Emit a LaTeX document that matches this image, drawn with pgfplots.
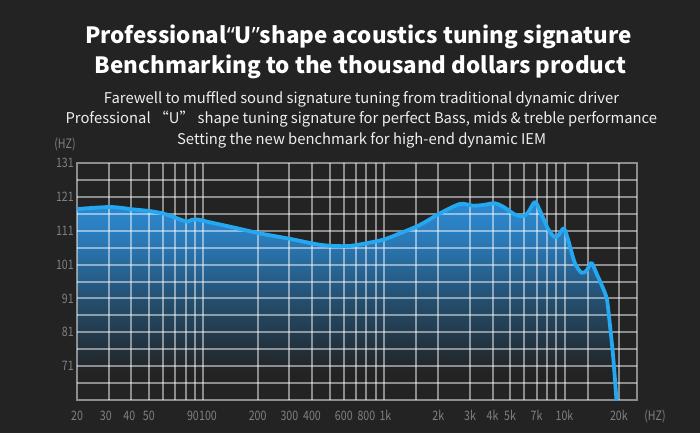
\documentclass[border=0pt]{standalone}
\usepackage{fontspec}
\setmainfont{Noto Sans CJK SC}
\newfontfamily\latinq{Noto Sans}
\newfontfamily\tickfont[FakeStretch=0.82]{Noto Sans CJK SC}
\usepackage{pgfplots}
\usepackage{pgfplotstable}
\pgfplotsset{compat=1.18}

\definecolor{bgc}{RGB}{35,35,35}
\definecolor{fillA}{RGB}{36,78,110}
\definecolor{fillB}{RGB}{42,122,184}
\definecolor{fillC}{RGB}{44,138,210}
\definecolor{curvec}{RGB}{36,168,242}
\definecolor{tickc}{RGB}{128,128,128}
\definecolor{subc}{RGB}{238,238,238}
\pgfdeclareverticalshading{frfill}{100bp}{color(0bp)=(bgc); color(32bp)=(bgc); color(50bp)=(fillA); color(65.5bp)=(fillB); color(75bp)=(fillC); color(100bp)=(fillC)}

% frequency (Hz) and level (value on the chart's axis)
\pgfplotstableread{
f v
20 117.4
30.5 118.0
40.8 117.3
50.7 116.8
59.8 116.1
68 115.1
80.9 113.7
86.3 114.2
93.5 114.3
104.4 113.7
146 112.0
206 110.2
302 108.6
424 107.0
522 106.5
648 106.5
800 107.3
1000 108.4
1226 110.2
1582 112.7
2041 116.1
2635 118.9
3120 118.4
3545 118.6
4115 119.1
4575 118.1
5308 115.8
5900 115.3
6290 116.4
6848 119.5
7300 117.0
8116 111.5
8838 109.1
9336 109.9
9912 111.7
10470 108.3
11404 101.5
12418 98.6
13236 99.2
14106 101.5
15032 98.4
16500 93.5
17200 90.5
17800 83.7
18600 73.8
19400 61
}\frdata

\begin{document}
\begin{tikzpicture}[x=1pt,y=1pt]
\fill[bgc] (0,0) rectangle (700,433);

% area under the curve
\begin{axis}[
  at={(77pt,33pt)}, anchor=south west, scale only axis,
  width=560pt, height=237pt,
  xmode=log, xmin=20, xmax=25200, ymin=0, ymax=70,
  hide axis, clip=true]
  \addplot[shade, shading=frfill, draw=none, smooth, tension=0.45]
     table[x=f, y expr=\thisrow{v}-61] {\frdata} \closedcycle;
\end{axis}

% grid, labels and curve
\begin{axis}[
  at={(77pt,33pt)}, anchor=south west, scale only axis,
  width=560pt, height=237pt,
  xmode=log, xmin=20, xmax=25200, ymin=0, ymax=70,
  axis line style={draw=white, draw opacity=0.48, line width=2pt},
  xtick={20,28.9,39,50,87.7,106.2,200,300,400,600,800,1020,2000,3000,4000,5000,7000,10000,20000},
  xticklabels={20,30,40,50,90,100,200,300,400,600,800,1k,2k,3k,4k,5k,7k,10k,20k},
  minor xtick={30,40,50,60,70,80,90,100,200,300,400,500,600,700,800,900,1000,1500,2000,3000,4000,5000,6000,7000,8000,9000,10000,13500,20000},
  ytick={10,20,30,40,50,60,70},
  yticklabels={71,81,91,101,111,121,131},
  minor ytick={5,10,15,20,25,30,35,40,45,50,55,60,65},
  xmajorgrids=false, ymajorgrids=false, xminorgrids=true, yminorgrids=true,
  minor grid style={draw=white, draw opacity=0.48, line width=2pt},
  major tick length=0pt, minor tick length=0pt,
  tick style={draw=none},
  ticklabel style={font=\tickfont\fontsize{13}{13}\selectfont, text=tickc},
  xticklabel style={anchor=base, inner sep=0pt, yshift=-20.8pt},
  yticklabel style={anchor=east, inner sep=0pt, xshift=-3pt}]
  \addplot[curvec, line width=3.8pt, smooth, tension=0.45, line join=round, line cap=round]
     table[x=f, y expr=\thisrow{v}-61] {\frdata};
\end{axis}

% texts
\node[anchor=base, text=white, font=\fontsize{22.4}{23}\selectfont\bfseries] at (358.5,389.7) {Professional{\latinq “}U{\latinq ”}shape acoustics tuning signature};
\node[anchor=base, text=white, font=\fontsize{22.4}{23}\selectfont\bfseries] at (360.5,359.7) {Benchmarking to the thousand dollars product};
\node[anchor=base, text=subc, font=\fontsize{14.8}{15}\selectfont] at (361.5,329.7) {Farewell to muffled sound signature tuning from traditional dynamic driver};
\node[anchor=base, text=subc, font=\fontsize{14.8}{15}\selectfont] at (361.3,309) {Professional “U” shape tuning signature for perfect Bass, mids \& treble performance};
\node[anchor=base, text=subc, font=\fontsize{14.8}{15}\selectfont] at (361.7,288.3) {Setting the new benchmark for high-end dynamic IEM};
\node[text=tickc, font=\tickfont\fontsize{13}{13}\selectfont, inner sep=0pt] at (65,289) {(HZ)};
\node[text=tickc, font=\tickfont\fontsize{13}{13}\selectfont, inner sep=0pt] at (655,17) {(HZ)};
\pgfresetboundingbox
\path[use as bounding box] (0,0) rectangle (700,433);
\end{tikzpicture}
\end{document}
